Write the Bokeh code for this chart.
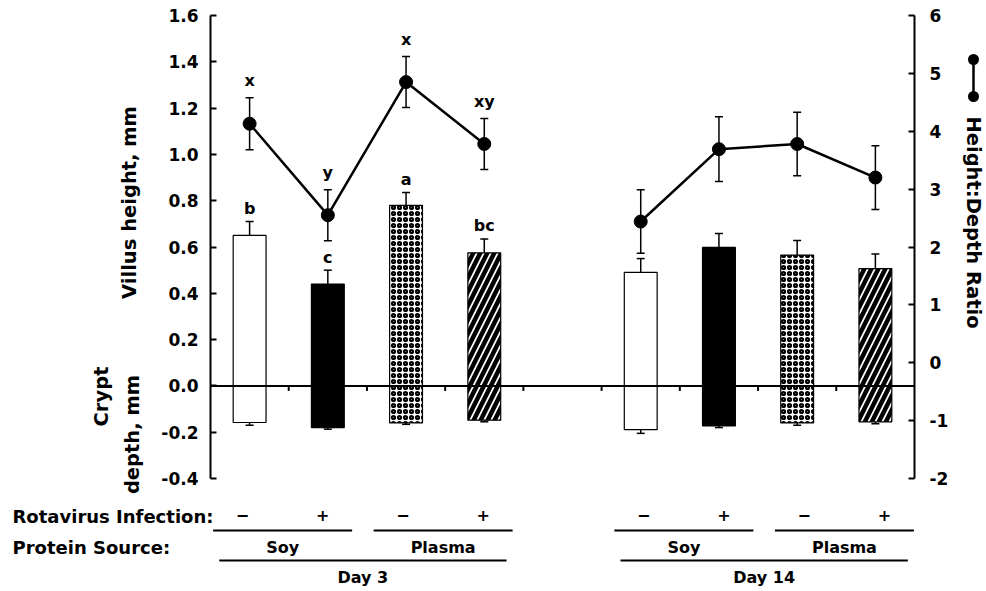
import numpy as np
from bokeh.plotting import figure
from bokeh.models import (Range1d, LinearAxis, FixedTicker, PrintfTickFormatter,
                          Span, Whisker, TeeHead, ColumnDataSource)
from bokeh.core.properties import value
from bokeh.embed import file_html
from bokeh.resources import INLINE

# ---------------- data ----------------
days = ["Day 3"] * 4 + ["Day 14"] * 4
protein = ["Soy", "Soy", "Plasma", "Plasma", "Soy", "Soy", "Plasma", "Plasma"]
infection = ["\u2212", "+", "\u2212", "+", "\u2212", "+", "\u2212", "+"]

villus = [0.65, 0.44, 0.78, 0.575, 0.49, 0.598, 0.565, 0.507]
villus_err = [0.06, 0.06, 0.055, 0.06, 0.06, 0.06, 0.063, 0.063]
crypt = [-0.158, -0.18, -0.16, -0.148, -0.189, -0.173, -0.16, -0.155]
crypt_err = [0.012, 0.007, 0.006, 0.007, 0.016, 0.007, 0.01, 0.009]
ratio = [4.13, 2.55, 4.85, 3.78, 2.44, 3.69, 3.78, 3.20]
ratio_err = [0.45, 0.44, 0.44, 0.44, 0.55, 0.56, 0.55, 0.55]
bar_letters = ["b", "c", "a", "bc", "", "", "", ""]
ratio_letters = ["x", "y", "x", "xy", "", "", "", ""]

left_ticks = [-0.4, -0.2, 0.0, 0.2, 0.4, 0.6, 0.8, 1.0, 1.2, 1.4, 1.6]
right_ticks = [-2, -1, 0, 1, 2, 3, 4, 5, 6]

# ---------------- layout helpers ----------------
FONT = "DejaVu Sans"
W, H = 986, 591
TOP, LEFT, RIGHT = 15, 210, 72
PX = 231.5                       # pixels per left-axis unit
XPX = (W - LEFT - RIGHT) / 9.0   # pixels per category slot
frame_h = H - TOP
y_lo = 1.6 - frame_h / PX
r_lo = 4 * y_lo - 0.4            # right axis is linear in left axis

xpos = [i + 1 + (i // 4) for i in range(len(days))]
n = len(xpos)

p = figure(width=W, height=H, x_range=Range1d(0.5, 9.5), y_range=Range1d(y_lo, 1.6),
           min_border_left=LEFT, min_border_right=RIGHT, min_border_top=TOP,
           min_border_bottom=0, x_axis_location=None, y_axis_location=None,
           toolbar_location=None, output_backend="svg")
p.extra_y_ranges = {"right": Range1d(r_lo, 6.0)}
p.outline_line_color = None
p.xgrid.visible = False
p.ygrid.visible = False
p.background_fill_color = "white"
p.border_fill_color = "white"


def style_axis(ax, standoff):
    ax.axis_line_width = 2
    ax.axis_line_color = "black"
    ax.major_tick_in = 6
    ax.major_tick_out = 0
    ax.major_tick_line_width = 2
    ax.minor_tick_line_color = None
    ax.major_label_standoff = standoff
    ax.major_label_text_font = FONT
    ax.major_label_text_font_style = "bold"
    ax.major_label_text_font_size = "17px"
    ax.major_label_text_color = "black"


la = LinearAxis(ticker=FixedTicker(ticks=left_ticks), formatter=PrintfTickFormatter(format="%.1f"),
                bounds=(-0.4, 1.6))
style_axis(la, 12)
p.add_layout(la, "left")
ra = LinearAxis(y_range_name="right", ticker=FixedTicker(ticks=right_ticks),
                formatter=PrintfTickFormatter(format="%d"), bounds=(-2, 6))
style_axis(ra, 15)
p.add_layout(ra, "right")

# ---------------- bars ----------------
fills = ["white", "black", "white", "white"] * 2
hatches = [" ", " ", "ring", "right_diagonal_line"] * 2
src = ColumnDataSource(dict(x=xpos, top=villus, bottom=crypt,
                            vt=[v + e for v, e in zip(villus, villus_err)],
                            cb=[c - e for c, e in zip(crypt, crypt_err)]))
for pat, sc, wt in [(" ", 1, 1), ("ring", 6, 2.2), ("right_diagonal_line", 14, 4.5)]:
    idx = [i for i in range(n) if hatches[i] == pat]
    s = ColumnDataSource(dict(x=[xpos[i] for i in idx], top=[villus[i] for i in idx],
                              bottom=[crypt[i] for i in idx], fill=[fills[i] for i in idx]))
    kw = {}
    if pat != " ":
        kw = dict(hatch_pattern=pat, hatch_scale=sc, hatch_weight=wt, hatch_color="black")
    p.vbar(x="x", top="top", bottom="bottom", width=0.42, source=s, fill_color="fill",
           line_color="black", line_width=1.2, **kw)

p.add_layout(Whisker(source=src, base="x", lower="top", upper="vt", line_width=1.5,
                     upper_head=TeeHead(size=8, line_width=1.5), lower_head=None))
p.add_layout(Whisker(source=src, base="x", lower="cb", upper="bottom", line_width=1.5,
                     lower_head=TeeHead(size=8, line_width=1.5), upper_head=None))

# zero line and small ticks between bars
p.add_layout(Span(location=0, dimension="width", line_color="black", line_width=2))
mids = [x + 0.5 for x in range(1, 9)]
p.segment(x0=mids, y0=[0] * len(mids), x1=mids, y1=[-5 / PX] * len(mids),
          line_color="black", line_width=2)

# ---------------- ratio line ----------------
rsrc = ColumnDataSource(dict(x=xpos, y=ratio, lo=[r - e for r, e in zip(ratio, ratio_err)],
                             hi=[r + e for r, e in zip(ratio, ratio_err)]))
p.add_layout(Whisker(source=rsrc, base="x", lower="lo", upper="hi", y_range_name="right",
                     line_width=1.5, upper_head=TeeHead(size=8, line_width=1.5),
                     lower_head=TeeHead(size=8, line_width=1.5)))
for g in (range(0, 4), range(4, 8)):
    p.line([xpos[i] for i in g], [ratio[i] for i in g], y_range_name="right",
           line_color="black", line_width=2.5)
p.scatter(xpos, ratio, y_range_name="right", size=13, color="black")

TXT = dict(text_font=value(FONT), text_font_style="bold", text_color="black")

# ---------------- significance letters ----------------
bi = [i for i in range(n) if bar_letters[i]]
p.text([xpos[i] for i in bi], [villus[i] + villus_err[i] for i in bi], text=[bar_letters[i] for i in bi],
       y_offset=-13, text_align="center", text_baseline="alphabetic", text_font_size="16px", **TXT)
ri = [i for i in range(n) if ratio_letters[i]]
p.text([xpos[i] for i in ri], [ratio[i] + ratio_err[i] for i in ri], text=[ratio_letters[i] for i in ri],
       y_range_name="right", y_offset=-17, text_align="center", text_baseline="alphabetic",
       text_font_size="16px", **TXT)


# ---------------- bottom category table ----------------
def ypx(py):  # image pixel row -> left data units
    return 1.6 - (py - TOP) / PX


def xpx(px):  # image pixel column -> x data units
    return 0.5 + (px - LEFT) / XPX


def tx(pos):  # the table under the chart is laid out slightly wider than the bars
    return xpx(242) + (pos - 1) * 1.026


y_sign, y_ul1, y_prot, y_ul2, y_day = ypx(514), ypx(530), ypx(547), ypx(560), ypx(577)

p.text([tx(x) for x in xpos], [y_sign] * n, text=infection, text_align="center",
       text_baseline="middle", text_font_size="16px", **TXT)

pairs = [(0, 1), (2, 3), (4, 5), (6, 7)]
pm = [(xpos[a] + xpos[b]) / 2 for a, b in pairs]
p.segment(x0=[tx(m - 0.866) for m in pm], y0=[y_ul1] * 4,
          x1=[tx(m + 0.866) for m in pm], y1=[y_ul1] * 4, line_color="black", line_width=2)
p.text([tx(m) for m in pm], [y_prot] * 4, text=[protein[a] for a, b in pairs],
       text_align="center", text_baseline="middle", text_font_size="16px", **TXT)
groups = [(0, 3), (4, 7)]
gm = [(xpos[a] + xpos[b]) / 2 for a, b in groups]
p.segment(x0=[tx(m - 1.79) for m in gm], y0=[y_ul2] * 2,
          x1=[tx(m + 1.79) for m in gm], y1=[y_ul2] * 2, line_color="black", line_width=2)
p.text([tx(m) for m in gm], [y_day] * 2, text=[days[a] for a, b in groups],
       text_align="center", text_baseline="middle", text_font_size="16px", **TXT)


# ---------------- texts outside the frame (overlay level so they are not clipped) ----------------
def lab(px_, py_, text, size, angle=0.0, align="center"):
    r = p.text([xpx(px_)], [ypx(py_)], text=[text], angle=angle, text_align=align,
               text_baseline="middle", text_font_size=size, **TXT)
    r.level = "overlay"


lab(12, 516, "Rotavirus Infection:", "18px", align="left")
lab(12, 547, "Protein Source:", "18px", align="left")
lab(128.5, 202, "Villus height, mm", "19.5px", angle=np.pi / 2)
lab(101, 396, "Crypt", "19.5px", angle=np.pi / 2)
lab(132, 434, "depth, mm", "19.5px", angle=np.pi / 2)
lab(973, 222, "Height:Depth Ratio", "19.5px", angle=-np.pi / 2)

# legend glyph (vertical line with a dot at each end) right of the plot
lx = xpx(973)
ly = [ypx(59), ypx(96)]
seg = p.segment(x0=[lx], y0=[ly[0]], x1=[lx], y1=[ly[1]], line_color="black", line_width=2.5)
dots = p.segment(x0=[lx, lx], y0=ly, x1=[lx, lx], y1=ly, line_color="black",
                 line_width=11, line_cap="round")
seg.level = "overlay"
dots.level = "overlay"

open("out.html", "w").write(file_html(p, INLINE))
